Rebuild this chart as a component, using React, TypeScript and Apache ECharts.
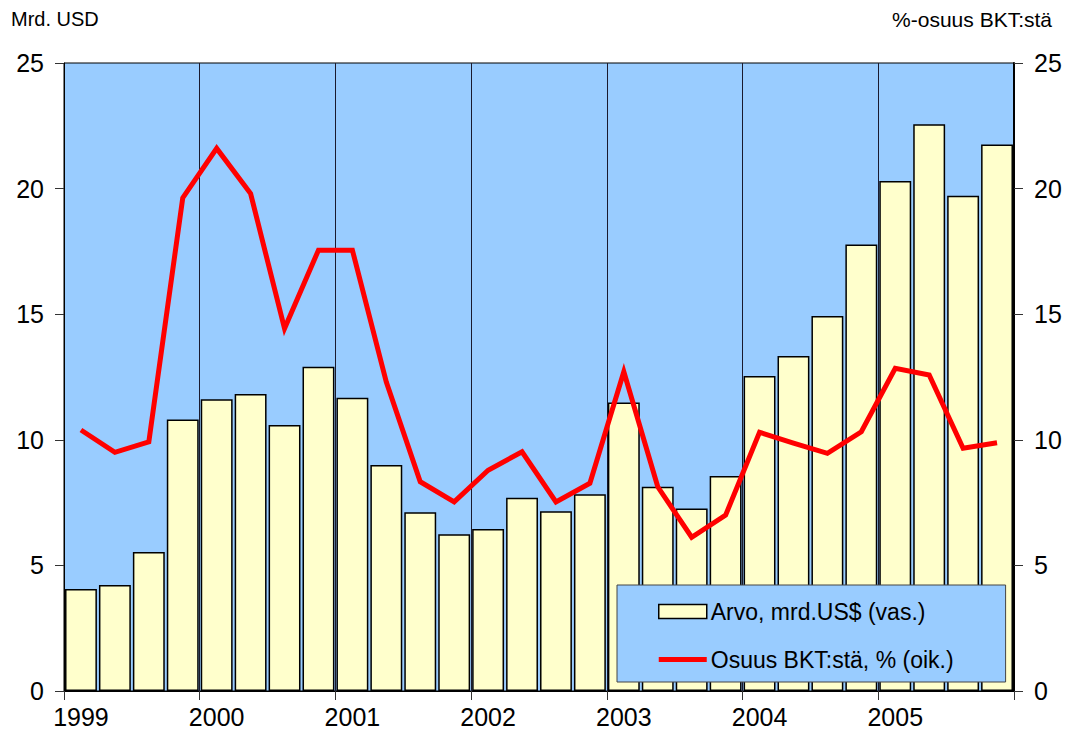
import React, { useEffect, useRef } from "react";
import * as echarts from "echarts";

const quarters = [
  "1999", "1999 Q2", "1999 Q3", "1999 Q4",
  "2000", "2000 Q2", "2000 Q3", "2000 Q4",
  "2001", "2001 Q2", "2001 Q3", "2001 Q4",
  "2002", "2002 Q2", "2002 Q3", "2002 Q4",
  "2003", "2003 Q2", "2003 Q3", "2003 Q4",
  "2004", "2004 Q2", "2004 Q3", "2004 Q4",
  "2005", "2005 Q2", "2005 Q3", "2005 Q4",
];

const arvo = [
  4.06, 4.22, 5.53, 10.81,
  11.61, 11.82, 10.59, 12.91,
  11.67, 9.0, 7.12, 6.24,
  6.45, 7.69, 7.16, 7.83,
  11.48, 8.13, 7.27, 8.56,
  12.54, 13.34, 14.93, 17.77,
  20.3, 22.56, 19.72, 21.76,
];

const osuus = [
  10.39, 9.5, 9.92, 19.63,
  21.6, 19.8, 14.43, 17.55,
  17.55, 12.3, 8.33, 7.53,
  8.79, 9.52, 7.53, 8.27,
  12.71, 8.13, 6.12, 7.0,
  10.3, 9.87, 9.46, 10.32,
  12.85, 12.58, 9.66, 9.88,
];

const leftTitle = "Mrd. USD";
const rightTitle = "%-osuus BKT:stä";
const barName = "Arvo, mrd.US$ (vas.)";
const lineName = "Osuus BKT:stä, % (oik.)";

const FONT = "Liberation Sans, Arial, sans-serif";

export default function App() {
  const ref = useRef<HTMLDivElement>(null);

  useEffect(() => {
    if (!ref.current) return;
    const chart = echarts.init(ref.current, undefined, { renderer: "svg" });
    const yAxisCommon = {
      type: "value",
      min: 0,
      max: 25,
      interval: 5,
      axisLine: { show: true, lineStyle: { color: "#000", width: 1 } },
      axisTick: { show: true, length: 9, lineStyle: { color: "#333", width: 1 } },
      splitLine: { show: false },
      axisLabel: { fontSize: 25, color: "#000", fontFamily: FONT, margin: 20 },
    };
    chart.setOption({
      animation: false,
      textStyle: { fontFamily: FONT },
      grid: {
        left: 64,
        right: 54,
        top: 63,
        bottom: 54,
        show: true,
        backgroundColor: "#99CCFF",
        borderColor: "#000",
        borderWidth: 1,
      },
      legend: {
        orient: "vertical",
        left: 617,
        top: 585,
        padding: [15, 52, 11, 41],
        itemGap: 25,
        itemWidth: 48,
        itemHeight: 14,
        backgroundColor: "#99CCFF",
        borderColor: "#444",
        borderWidth: 1,
        textStyle: { fontSize: 23, color: "#000", fontFamily: FONT, padding: [0, 0, 0, -1] },
        data: [
          { name: barName, icon: "rect", itemStyle: { color: "#FFFFCC", borderColor: "#000", borderWidth: 1.5 } },
          {
            name: lineName,
            icon: "path://M0,0 L48,0 L48,5 L0,5 Z",
            itemStyle: { color: "#FF0000", borderWidth: 0 },
          },
        ],
      },
      graphic: [
        {
          type: "text",
          left: 11,
          top: 9,
          style: { text: leftTitle, fontSize: 20, fill: "#000", fontFamily: FONT },
        },
        {
          type: "text",
          right: 16,
          top: 9,
          style: { text: rightTitle, fontSize: 21, fill: "#000", fontFamily: FONT },
        },
      ],
      xAxis: {
        type: "category",
        data: quarters,
        boundaryGap: true,
        axisLine: { show: true, lineStyle: { color: "#000", width: 1 } },
        axisTick: {
          show: true,
          length: 9,
          alignWithLabel: false,
          interval: (i: number) => i % 4 === 0,
          lineStyle: { color: "#333" },
        },
        axisLabel: {
          interval: 3,
          fontSize: 25,
          color: "#000",
          fontFamily: FONT,
          margin: 13,
        },
        splitLine: {
          show: true,
          interval: (i: number) => i % 4 === 0 && i !== 0,
          lineStyle: { color: "#1a1a2e", width: 1 },
        },
      },
      yAxis: [
        { ...yAxisCommon, position: "left" },
        { ...yAxisCommon, position: "right", axisLine: { show: true, lineStyle: { color: "#000", width: 2 } } },
      ],
      series: [
        {
          name: barName,
          type: "bar",
          data: arvo,
          yAxisIndex: 0,
          barCategoryGap: "6%",
          itemStyle: { color: "#FFFFCC", borderColor: "#000", borderWidth: 1.5 },
        },
        {
          name: lineName,
          type: "line",
          data: osuus,
          yAxisIndex: 1,
          symbol: "none",
          showSymbol: false,
          lineStyle: { color: "#FF0000", width: 5, join: "miter" },
          itemStyle: { color: "#FF0000" },
        },
      ],
    });
    return () => chart.dispose();
  }, []);

  return (
    <div
      ref={ref}
      style={{ position: "fixed", left: 0, top: 0, width: 1068, height: 745, background: "#fff" }}
    />
  );
}
